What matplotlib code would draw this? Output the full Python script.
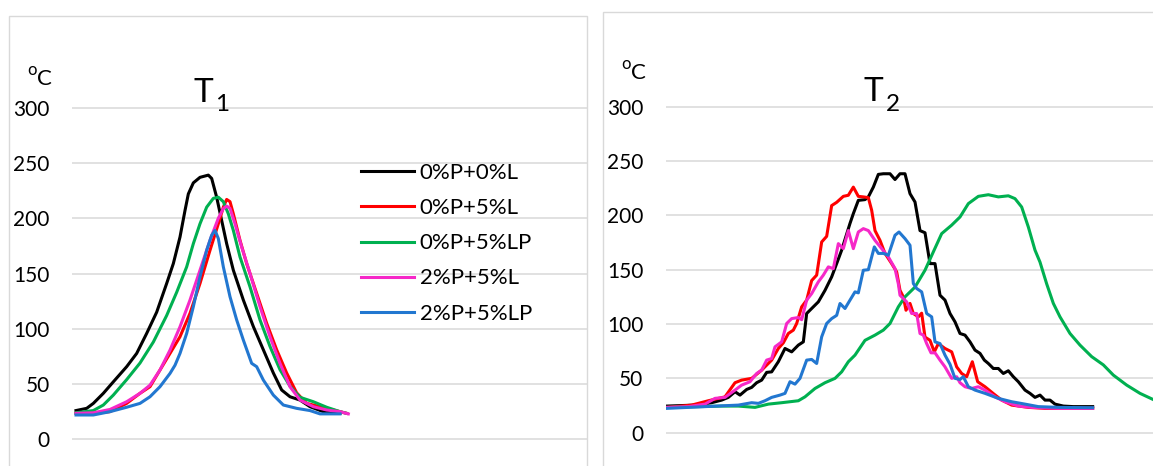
import numpy as np
import matplotlib
matplotlib.use("Agg")
import matplotlib.pyplot as plt
from matplotlib.patches import Rectangle

plt.rcParams['font.family'] = ['Lato', 'DejaVu Sans']

W, H = 1153, 466

labels = ["0%P+0%L", "0%P+5%L", "0%P+5%LP", "2%P+5%L", "2%P+5%LP"]
colors = ["#000000", "#FF0000", "#00B050", "#F628C8", "#2277D0"]
yticks = [0, 50, 100, 150, 200, 250, 300]

# T1 readings, (sample index, degC)
t1_black = [(0, 26), (3.2, 28), (5.2, 32.5), (8.2, 41.6), (11.2, 52), (15.2, 65.7), (18.2, 77.7),
            (21.2, 95.8), (24.2, 115), (27.2, 141), (29.2, 159), (31.2, 183), (32.7, 207), (33.7, 222),
            (35.2, 232), (37.2, 237), (39.7, 239), (40.7, 236), (42.2, 219), (43.7, 198), (45.2, 177),
            (47.2, 153), (50.2, 126), (53.2, 102), (56.2, 81), (59.2, 60), (61.7, 44.6), (64.2, 38.5),
            (67.2, 35.5), (70.2, 29.5), (74.2, 25), (79.2, 23.5)]
t1_red = [(0, 23.5), (5.2, 23.5), (10.2, 25), (15.2, 32.5), (19.2, 41.6), (22.2, 47.6), (25.2, 62.7),
          (28.2, 77.7), (31.2, 92.8), (34.2, 114), (37.2, 141), (40.2, 171), (42.7, 195), (44.2, 210),
          (45.2, 217), (46.2, 215), (47.2, 204), (49.2, 180), (51.2, 159), (54.2, 132), (57.2, 105),
          (60.2, 81), (63.2, 60), (66.2, 42), (69.2, 32.5), (73.2, 29.5), (77.2, 26.5), (81.2, 23.5)]
t1_green = [(0, 24), (5.2, 26), (8.2, 31), (11.2, 40), (15.2, 54), (19.2, 69), (23.2, 88), (27.2, 112),
            (30.2, 133), (33.2, 156), (35.2, 177), (37.2, 195), (39.2, 210), (41.2, 218), (42.7, 219),
            (44.2, 215), (45.7, 204), (47.2, 189), (49.2, 165), (52.2, 138), (55.2, 108), (58.2, 84),
            (61.2, 63), (64.2, 48), (67.2, 38), (71.2, 34), (75.2, 29), (79.2, 25), (81.2, 23.5)]
t1_magenta = [(0, 23.5), (5.2, 24), (10.2, 27), (15.2, 34), (19.2, 41.6), (22.2, 49), (25.2, 62.7),
              (28.2, 80.7), (31.2, 101.8), (34.2, 126), (37.2, 153), (40.2, 180), (42.7, 200),
              (44.2, 208.7), (45.2, 211), (46.2, 209), (47.7, 195), (49.7, 174), (52.2, 150), (55.2, 120),
              (58.2, 92.8), (61.2, 68.7), (64.2, 47.6), (67.2, 35.5), (71.2, 29.5), (75.2, 26.5),
              (79.2, 25), (81.7, 23)]
t1_blue = [(0, 22), (5.2, 22), (10.2, 25), (15.2, 29), (19.2, 32.5), (22.2, 38.5), (25.2, 47.6),
           (28.2, 59.6), (29.7, 67), (31.2, 77.7), (33.2, 95.8), (35.2, 120), (37.2, 147), (39.2, 171),
           (40.7, 184.6), (41.7, 189), (42.7, 181.6), (44.2, 156), (46.2, 129), (48.2, 108), (50.2, 89.8),
           (52.7, 68.7), (54.2, 65.7), (56.2, 53.6), (59.2, 40), (62.2, 31), (66.2, 28), (70.2, 26),
           (73.2, 23), (79.2, 23)]

# T2 readings
t2_black = [(0, 24.5), (8.4, 25.4), (13.4, 27.6), (16.4, 30), (18.4, 32.5), (20.4, 37.7), (21.9, 34.6),
            (23.9, 39.8), (25.4, 41.7), (26.9, 46), (28.4, 48.4), (29.9, 55.5), (31.4, 56), (33.4, 65.3),
            (35.4, 77.5), (37.4, 74.4), (39.4, 80.6), (40.9, 83.6), (41.9, 109.7), (43.4, 114.3),
            (45.4, 120.4), (47.4, 131), (49.4, 143.4), (50.9, 155.6), (52.4, 168), (54.9, 192.6),
            (55.9, 201.6), (57.4, 213.8), (59.4, 214.5), (60.4, 217), (61.9, 226), (63.4, 237.7),
            (64.9, 238.3), (66.9, 238.3), (68.4, 233), (69.9, 238.3), (71.4, 238.3), (72.9, 220),
            (74.4, 212.3), (75.9, 186), (77.4, 184), (78.9, 155.6), (80.4, 155.6), (81.9, 126.5),
            (83.4, 122), (84.9, 109.7), (86.4, 102), (87.9, 91.3), (89.4, 89.8), (90.9, 83.6), (92.4, 76),
            (93.9, 73), (95.2, 66.8), (96.4, 63.7), (97.9, 59.1), (99.4, 59.1), (100.9, 54.5), (102.4, 57),
            (103.9, 51.5), (105.4, 46.9), (107.4, 39.2), (108.9, 36.2), (110.4, 32.5), (111.9, 34.6),
            (113.4, 30), (114.9, 30), (116.4, 26.3), (118.9, 24.5), (121.9, 24), (127.7, 24)]
t2_red = [(0, 23.3), (7.4, 25.4), (12.4, 29.4), (17.4, 33), (20.4, 46), (22.4, 48.4), (25.4, 50),
          (28.4, 57.6), (31.4, 66.8), (33.4, 77.5), (34.9, 82.7), (36.4, 91.3), (37.9, 94.4), (38.9, 100.5),
          (40.4, 115.8), (41.9, 122), (43.4, 140), (44.9, 145), (46.4, 175.5), (47.9, 180.7), (49.4, 209),
          (50.9, 212), (52.9, 217.5), (54.4, 218.5), (55.9, 226), (57.4, 217.5), (58.9, 217), (60.4, 216.3),
          (61.4, 204.7), (62.4, 186), (63.9, 177), (65.4, 165), (67.4, 155.6), (68.9, 148), (69.9, 131),
          (70.9, 125), (71.7, 112.7), (72.9, 119), (73.9, 109.7), (75.4, 106.6), (76.4, 110), (77.4, 88),
          (78.9, 85), (80.2, 74.4), (81.4, 82), (83.4, 77.5), (85.4, 74.4), (86.9, 60.6), (88.4, 54.5),
          (89.9, 51.5), (91.6, 65.3), (93.2, 46.9), (95.4, 42.3), (97.9, 36), (100.4, 30), (103.4, 25.4),
          (108.4, 23.3), (113.4, 22.4), (127.7, 22.4)]
t2_green = [(0, 23.3), (16.4, 24.5), (21.4, 24.5), (26.4, 23.3), (30.4, 26.3), (34.4, 27.6), (39.4, 29.4),
            (41.4, 33), (44.4, 40.7), (47.4, 46), (50.4, 50), (52.4, 56), (54.4, 65.3), (56.4, 71.4),
            (59.4, 85), (62.4, 89.8), (64.9, 94.4), (66.9, 100.5), (69.4, 115.8), (71.4, 125), (74.4, 134),
            (77.4, 149.5), (79.9, 166.4), (82.4, 183.2), (85.4, 191), (87.9, 198.5), (90.4, 210.8),
            (93.4, 217.5), (96.4, 219), (99.4, 217), (102.4, 218), (104.4, 215.4), (106.4, 207.7),
            (108.4, 189.3), (110.4, 168), (111.9, 157), (113.9, 137), (115.9, 119), (117.9, 106.6),
            (120.9, 91.3), (123.9, 80.6), (127.4, 70), (130.9, 62.4), (133.9, 53), (137.9, 43.8),
            (141.9, 36.2), (145.8, 30.6)]
t2_magenta = [(0, 23.3), (6.4, 24), (11.4, 26.3), (14.4, 31.6), (17.4, 32.5), (20.4, 39.2), (22.4, 43.8),
              (24.9, 46.9), (26.9, 54.5), (28.4, 57.6), (29.9, 66.8), (31.4, 68.3), (32.4, 79), (34.4, 83.6),
              (35.9, 100.5), (37.4, 105), (39.4, 106), (40.4, 104), (41.9, 122), (43.4, 128), (45.4, 138.8),
              (46.9, 145), (48.4, 152.6), (49.9, 151), (51.4, 174), (52.9, 169.4), (54.4, 186), (55.9, 169.4),
              (57.4, 184.7), (58.9, 187.8), (60.4, 186), (62.4, 177), (64.4, 169.4), (66.4, 161.8),
              (68.4, 151), (69.4, 137), (69.9, 126.5), (71.9, 120.4), (73.4, 109.7), (74.9, 109.7),
              (75.9, 91.3), (76.9, 89.8), (77.9, 82), (79.2, 73.5), (80.4, 73.5), (81.9, 66.8), (83.4, 60.6),
              (85.4, 50), (86.9, 51.5), (87.9, 46), (89.4, 42.3), (91.4, 40.7), (93.4, 42.3), (95.4, 39.2),
              (98.4, 33), (101.4, 28.5), (105.4, 24.5), (109.4, 23.3), (117.4, 22.4), (127.7, 22.4)]
t2_blue = [(0, 22.4), (11.4, 24), (21.4, 25.4), (25.4, 27.6), (27.4, 27), (29.4, 29.4), (31.4, 32.5),
           (33.9, 34.6), (35.4, 36.2), (36.9, 46.9), (38.4, 44.7), (39.9, 50), (41.9, 66.8), (43.4, 67.4),
           (44.9, 63.7), (46.4, 88.2), (47.9, 100.5), (49.4, 105), (50.9, 108), (51.9, 118.9), (53.4, 114.3),
           (54.9, 122), (56.4, 129.6), (57.4, 128.7), (58.9, 149.5), (60.4, 150), (62.2, 171), (63.4, 165),
           (64.9, 165), (66.4, 163.3), (68.4, 181.7), (69.6, 184.7), (71.4, 178.6), (72.9, 172.5),
           (73.9, 137.3), (74.9, 132.7), (76.4, 129.6), (77.9, 109.7), (79.4, 106.6), (80.4, 83.6),
           (81.9, 82), (83.4, 71.4), (84.9, 63), (86.4, 50), (87.9, 49), (88.9, 51.5), (90.4, 42.3),
           (92.4, 39.2), (95.4, 36.2), (99.4, 31.6), (103.4, 28.5), (107.4, 26.3), (111.4, 24),
           (117.4, 23.3), (127.7, 23)]

t1_series = [t1_black, t1_red, t1_green, t1_magenta, t1_blue]
t2_series = [t2_black, t2_red, t2_green, t2_magenta, t2_blue]

fig = plt.figure(figsize=(W / 100, H / 100), dpi=100)


# place a plot area from pixel box; zero line at y0, k px per degree, 1 sample = 10/3 px
def make_panel(x0, x1, x_origin, y0, k):
    lo, hi = -6, 306
    top = y0 - hi * k
    bot = y0 - lo * k
    ax = fig.add_axes([x0 / W, 1 - bot / H, (x1 - x0) / W, (bot - top) / H])
    step = 10 / 3
    ax.set_xlim((x0 - x_origin) / step, (x1 - x_origin) / step)
    ax.set_ylim(lo, hi)
    ax.set_yticks(yticks)
    ax.set_xticks([])
    ax.tick_params(axis='y', length=0, pad=16, labelsize=15)
    ax.yaxis.grid(True, color='#d9d9d9', lw=1.1)
    ax.set_axisbelow(True)
    for s in ax.spines.values():
        s.set_visible(False)
    ax.patch.set_alpha(0)
    return ax


# panel frames
fig.add_artist(Rectangle((9 / W, 1 - 490 / H), 578 / W, 474 / H, transform=fig.transFigure,
                         fc='none', ec='#d9d9d9', lw=1.0))
fig.add_artist(Rectangle((603 / W, 1 - 490 / H), 600 / W, 478 / H, transform=fig.transFigure,
                         fc='none', ec='#d9d9d9', lw=1.0))

ax1 = make_panel(72, 587, 76, 439.3, 331.6 / 300)
ax2 = make_panel(665.7, 1165, 667, 432.7, 326.0 / 300)

handles = []
for data, c, lab in zip(t1_series, colors, labels):
    x, y = np.array(data).T
    ln, = ax1.plot(x, y, color=c, lw=2.2, label=lab, solid_joinstyle='round')
    handles.append(ln)

for data, c in zip(t2_series, colors):
    x, y = np.array(data).T
    ax2.plot(x, y, color=c, lw=2.2, solid_joinstyle='round')

ax1.legend(handles=handles, loc='center left', bbox_to_anchor=(360.7 / W, 1 - 243.3 / H),
           bbox_transform=fig.transFigure, frameon=False, fontsize=16, borderpad=0,
           borderaxespad=0, handlelength=2.4, handletextpad=0.25, labelspacing=0.68)

# unit labels and titles
fig.text(27.5 / W, 1 - 74.7 / H, 'o', fontsize=12, va='baseline', ha='left')
fig.text(36.5 / W, 1 - 85.3 / H, 'C', fontsize=16, va='baseline', ha='left')
fig.text(621.5 / W, 1 - 68.7 / H, 'o', fontsize=12, va='baseline', ha='left')
fig.text(630.5 / W, 1 - 79 / H, 'C', fontsize=16, va='baseline', ha='left')

fig.text(194 / W, 1 - 102 / H, 'T', fontsize=24, va='baseline', ha='left')
fig.text(215 / W, 1 - 111 / H, '1', fontsize=17.5, va='baseline', ha='left')
fig.text(864 / W, 1 - 100.7 / H, 'T', fontsize=24, va='baseline', ha='left')
fig.text(886 / W, 1 - 111 / H, '2', fontsize=17.5, va='baseline', ha='left')

fig.savefig('out.png', dpi=100)
